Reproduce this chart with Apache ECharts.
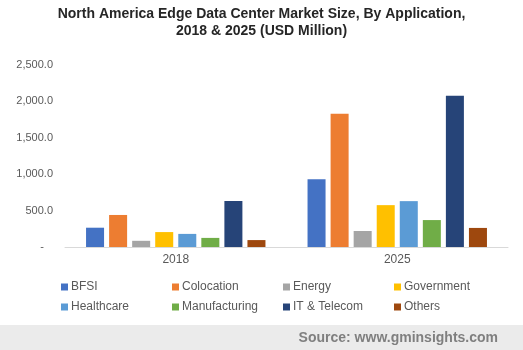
<!DOCTYPE html>
<html>
<head>
<meta charset="utf-8">
<script src="https://cdn.jsdelivr.net/npm/echarts@6/dist/echarts.min.js"></script>
<style>
  html, body { margin: 0; padding: 0; background: #fff; }
  #chart { width: 523px; height: 350px; }
</style>
</head>
<body>
<div id="chart"></div>
<script>
// years on the x axis
var years = ['2018', '2025']
// applications (one series each)
var apps = ['BFSI', 'Colocation', 'Energy', 'Government', 'Healthcare', 'Manufacturing', 'IT & Telecom', 'Others']
var colors = ['#4472C4', '#ED7D31', '#A5A5A5', '#FFC000', '#5B9BD5', '#70AD47', '#264478', '#9E480E']
// values in USD million, [2018, 2025]
var bfsi = [265, 930]
var colocation = [440, 1830]
var energy = [85, 220]
var government = [205, 575]
var healthcare = [180, 630]
var manufacturing = [125, 370]
var itTelecom = [632, 2078]
var others = [95, 262]
var values = [bfsi, colocation, energy, government, healthcare, manufacturing, itTelecom, others]

var chart = echarts.init(document.getElementById('chart'))

var series = apps.map(function (name, i) {
  return {
    name: name,
    type: 'bar',
    data: values[i],
    barGap: '28%',
    barCategoryGap: '19%',
    itemStyle: { color: colors[i] },
  }
})

// legend laid out as a 4 x 2 grid, one legend per item
var legends = apps.map(function (name, i) {
  return {
    data: [name],
    left: 56 + (i % 4) * 111,
    top: 276 + Math.floor(i / 4) * 20,
    itemWidth: 7,
    itemHeight: 7,
    itemGap: 3,
    icon: 'rect',
    textStyle: {
      fontFamily: 'Liberation Sans',
      fontSize: 12,
      color: '#595959',
      padding: [0, 0, 0, -2],
    },
  }
})

var option = {
  animation: false,
  title: {
    text: 'North America Edge Data Center Market Size, By Application,\n2018 & 2025 (USD Million)',
    left: 'center',
    top: 1,
    textStyle: {
      fontFamily: 'Liberation Sans',
      fontSize: 14,
      fontWeight: 'bold',
      color: '#262626',
      lineHeight: 17,
    },
  },
  legend: legends,
  grid: {
    left: 65,
    right: 15,
    top: 65,
    bottom: 103,
    containLabel: false,
  },
  xAxis: {
    type: 'category',
    data: years,
    axisLine: { lineStyle: { color: '#d9d9d9' } },
    axisTick: { show: false },
    axisLabel: {
      fontFamily: 'Liberation Sans',
      fontSize: 12,
      color: '#595959',
      margin: 7,
    },
  },
  yAxis: {
    type: 'value',
    min: 0,
    max: 2500,
    interval: 500,
    splitLine: { show: false },
    axisLine: { show: false },
    axisTick: { show: false },
    axisLabel: {
      fontFamily: 'Liberation Sans',
      fontSize: 11,
      color: '#595959',
      margin: 12,
      formatter: function (v) {
        if (v === 0) return '-   '
        return v.toLocaleString('en-US', { minimumFractionDigits: 1, maximumFractionDigits: 1 })
      },
    },
  },
  graphic: [
    {
      type: 'rect',
      left: 0,
      top: 325,
      shape: { width: 523, height: 25 },
      style: { fill: '#ebebeb' },
      silent: true,
    },
    {
      type: 'text',
      right: 25,
      top: 331,
      style: {
        text: 'Source: www.gminsights.com',
        fontFamily: 'Liberation Sans',
        fontSize: 14,
        fontWeight: 'bold',
        fill: '#7f7f7f',
      },
      silent: true,
    },
  ],
  series: series,
}

chart.setOption(option)
</script>
</body>
</html>
